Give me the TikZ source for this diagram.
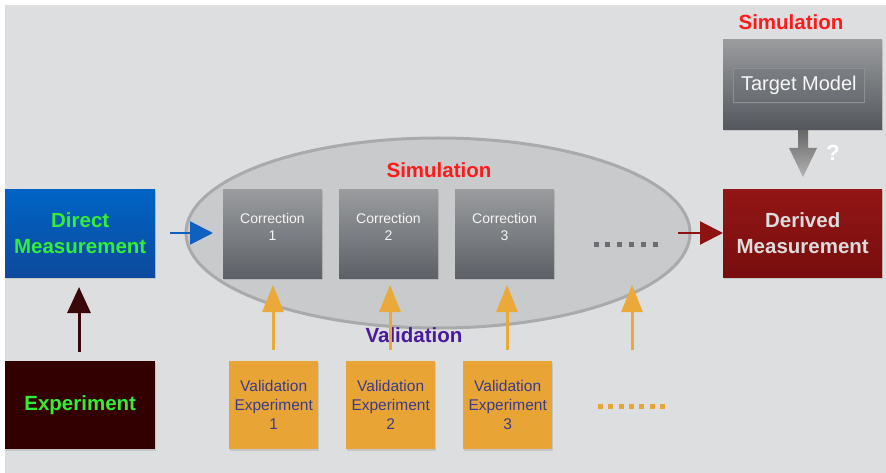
\documentclass[tikz,border=0pt]{standalone}
\usepackage{fontspec}
\setmainfont{Liberation Sans}
\usetikzlibrary{arrows.meta,shadows,shapes.geometric}
\definecolor{bg}{HTML}{DDDEE0}
\definecolor{ellfill}{HTML}{C9CACC}
\definecolor{elldraw}{HTML}{A9AAAC}
\definecolor{corrtop}{HTML}{9A9C9E}
\definecolor{corrbot}{HTML}{5D6167}
\definecolor{dmtop}{HTML}{0064C6}
\definecolor{dmbot}{HTML}{0C4A9C}
\definecolor{lgreen}{HTML}{33EE33}
\definecolor{expcol}{HTML}{330000}
\definecolor{dertop}{HTML}{931515}
\definecolor{derbot}{HTML}{780E0E}
\definecolor{dertext}{HTML}{DCDCDC}
\definecolor{simred}{HTML}{FF1A1A}
\definecolor{valpurple}{HTML}{4A1A9C}
\definecolor{orng}{HTML}{E8A535}
\definecolor{orngarrow}{HTML}{EAA938}
\definecolor{valtext}{HTML}{3B3B8C}
\definecolor{bluearrow}{HTML}{1060C0}
\definecolor{redarrow}{HTML}{8E1212}
\definecolor{exparrow}{HTML}{3A0808}
\definecolor{dotgray}{HTML}{6A6D72}
\definecolor{tminner}{HTML}{6F7378}
\tikzset{
  x=1pt, y=-1pt,
  shadowed/.style={drop shadow={opacity=0.25, shadow xshift=1pt, shadow yshift=-1.5pt}},
  corrbox/.style={shadowed, minimum width=99pt, minimum height=89pt, top color=corrtop, bottom color=corrbot, draw=none,
     anchor=north west, inner sep=0pt},
  corrtext/.style={text=white!92!gray, font=\fontsize{14}{17.5}\selectfont, align=center, inner sep=0pt},
  valbox/.style={shadowed, minimum width=89pt, minimum height=88pt, fill=orng, draw=none,
     text=valtext, font=\fontsize{15.5}{19}\selectfont, align=center, anchor=north west, inner sep=0pt},
  bigbox/.style={shadowed, minimum width=150pt, minimum height=88pt, draw=none,
     font=\bfseries\fontsize{20.5}{25.5}\selectfont, align=center, anchor=north west, inner sep=0pt},
  lbl/.style={font=\bfseries\fontsize{20.5}{24}\selectfont},
  orarrow/.style={draw=orngarrow, line width=3pt, -{Triangle[length=27pt,width=21pt]}},
}
\begin{document}
\begin{tikzpicture}
\useasboundingbox (0,0) rectangle (886,473);
\fill[white] (0,0) rectangle (886,473);
\fill[bg] (5,5) rectangle (886,473);

% ellipse
\node[ellipse, draw=elldraw, line width=3pt, fill=ellfill, minimum width=504pt, minimum height=190pt, inner sep=0pt] (ell) at (438,233) {};
\node[lbl, text=simred] (siminner) at (439,170) {Simulation};

% correction boxes
\node[corrbox] (c1) at (223,189) {};
\node[corrbox] (c2) at (339,189) {};
\node[corrbox] (c3) at (455,189) {};
\node[corrtext] (c1t) at (272.5,227) {Correction\\1};
\node[corrtext] (c2t) at (388.5,227) {Correction\\2};
\node[corrtext] (c3t) at (504.5,227) {Correction\\3};
\foreach \i in {0,...,5} \fill[dotgray] (593.5+\i*11.8,241.5) rectangle ++(5,5);

% left boxes
\node[bigbox, top color=dmtop, bottom color=dmbot, text=lgreen, minimum width=150pt] (dm) at (5,189) {Direct\\Measurement};
\node[bigbox, fill=expcol, text=lgreen, minimum width=150pt] (exp) at (5,361) {Experiment};

% derived + target
\node[bigbox, top color=dertop, bottom color=derbot, text=dertext, minimum width=159pt] (der) at (723,189) {Derived\\Measurement};
\node[lbl, text=simred] (simtop) at (791,22) {Simulation};
\node[shadowed, anchor=north west, minimum width=159pt, minimum height=90pt, top color=corrtop, bottom color=corrbot!90!black, inner sep=0pt] (tm) at (723,39) {};
\node[anchor=north west, minimum width=131pt, minimum height=34pt, top color=tminner!92!white, bottom color=tminner!95!black, draw=tminner!80!white, line width=0.6pt,
      text=white!94!gray, font=\fontsize{20}{24}\selectfont, inner sep=0pt, drop shadow={opacity=0.3, shadow xshift=0pt, shadow yshift=-1.5pt}] (tmin) at (733,68) {Target Model};

% validation experiments
\node[valbox] (v1) at (229,361) {Validation\\Experiment\\1};
\node[valbox] (v2) at (346,361) {Validation\\Experiment\\2};
\node[valbox] (v3) at (463,361) {Validation\\Experiment\\3};
\foreach \i in {0,...,6} \fill[orng] (598+\i*10.3,403.5) rectangle ++(5,5);

% connectors
\coordinate (expA) at (79,352);
\coordinate (expB) at (79,287);
\draw[draw=exparrow, line width=3pt, -{Triangle[length=26pt,width=23pt]}] (expA) -- (expB);

\coordinate (bA) at (170,233);
\coordinate (bB) at (213,233);
\draw[draw=bluearrow, line width=2.2pt, -{Triangle[length=23pt,width=23pt]}] (bA) -- (bB);

\coordinate (rA) at (678,233);
\draw[draw=redarrow, line width=2.2pt, -{Triangle[length=23pt,width=23pt]}] (rA) -- (der.west |- rA);

\shade[top color=gray!80!black, bottom color=gray!60!white] (798,130) -- (808,130) -- (808,148) -- (817,148) -- (803,177) -- (789,148) -- (798,148) -- cycle;
\node[text=white, font=\bfseries\fontsize{22}{24}\selectfont] (q) at (833,153) {?};

\node[lbl, text=valpurple] (valid) at (414,335) {Validation};

\coordinate (o1) at (273,350); \coordinate (o1t) at (273,285);
\coordinate (o2) at (390,350); \coordinate (o2t) at (390,285);
\coordinate (o3) at (507,350); \coordinate (o3t) at (507,285);
\coordinate (o4) at (632,350); \coordinate (o4t) at (632,285);
\draw[orarrow] (o1) -- (o1t);
\draw[orarrow] (o2) -- (o2t);
\draw[orarrow] (o3) -- (o3t);
\draw[orarrow] (o4) -- (o4t);
\end{tikzpicture}
\end{document}
